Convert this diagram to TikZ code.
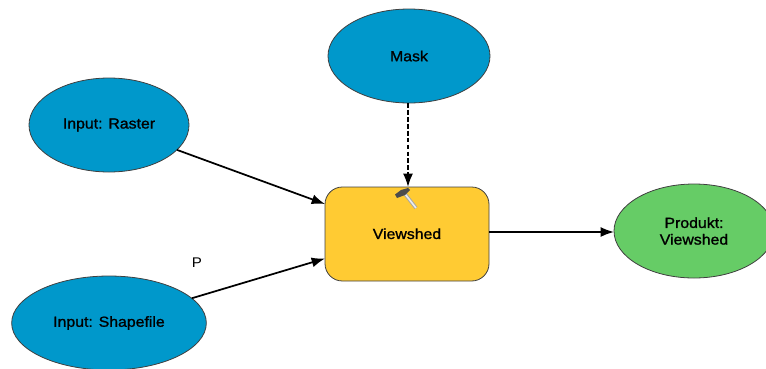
\documentclass[tikz,border=0pt]{standalone}
\usepackage{fontspec}
\setmainfont[FakeBold=1.2,FakeStretch=1.08]{Liberation Sans}
\newfontfamily\plainfont[FakeStretch=1.08]{Liberation Sans}
\usetikzlibrary{shapes.geometric,arrows.meta}
\definecolor{inblue}{HTML}{0098CB}
\definecolor{toolyellow}{HTML}{FFCB33}
\definecolor{outgreen}{HTML}{66CC66}
\definecolor{edgegrey}{HTML}{404040}
\tikzset{
  x=0.75pt,y=-0.75pt,
  every node/.style={font=\fontsize{11pt}{12.5pt}\selectfont,text=black},
  dataell/.style={ellipse,draw=edgegrey,line width=0.6pt,fill=inblue,inner sep=0pt,outer sep=0pt},
  toolbox/.style={rectangle,rounded corners=13pt,draw=edgegrey,line width=0.6pt,fill=toolyellow,inner sep=0pt,outer sep=0pt,minimum width=123pt,minimum height=70.5pt},
  flow/.style={draw=black,line width=1.3pt,-{Latex[length=10pt,width=7.5pt]}},
  maskflow/.style={flow,dash pattern=on 3.6pt off 1.6pt},
}
\begin{document}
\begin{tikzpicture}
\useasboundingbox (0,0) rectangle (766,368);
\clip (0,0) rectangle (766,368);
\node[dataell,minimum width=120pt,minimum height=70.5pt] (raster) at (109,125) {\raisebox{-0.5pt}{Input: Raster}};
\node[dataell,minimum width=146pt,minimum height=70.5pt] (shape) at (109,323) {\raisebox{-1pt}{Input: Shapefile}};
\node[dataell,minimum width=121.5pt,minimum height=70.5pt] (mask) at (409,56) {Mask};
\node[toolbox] (view) at (407,234) {\raisebox{0.5pt}{Viewshed}};
\node[dataell,fill=outgreen,minimum width=120pt,minimum height=70.5pt,align=center] (prod) at (694,231) {Produkt:\\Viewshed};
\node[font=\plainfont\fontsize{10.5pt}{12pt}\selectfont] (p) at (197,263) {P};
\coordinate (viewtop) at (408,187);
\coordinate (masklow) at (408,103);
\coordinate (viewout) at (489,232);
\coordinate (prodin) at (614,232);
\draw[flow] (raster) -- (view);
\draw[flow] (shape) -- (view);
\draw[maskflow] (masklow) -- (viewtop);
\draw[flow] (viewout) -- (prodin);
% hammer icon
\draw[line width=2.6pt,draw=gray!70!white] (405,194) -- (416,208);
\draw[line width=1.2pt,draw=white!85!gray] (405,194) -- (416,208);
\fill[gray!60!black] (395,194.5) -- (401,190) -- (408,188) -- (410,190) -- (405,195) -- (397,198) -- cycle;
\end{tikzpicture}
\end{document}
